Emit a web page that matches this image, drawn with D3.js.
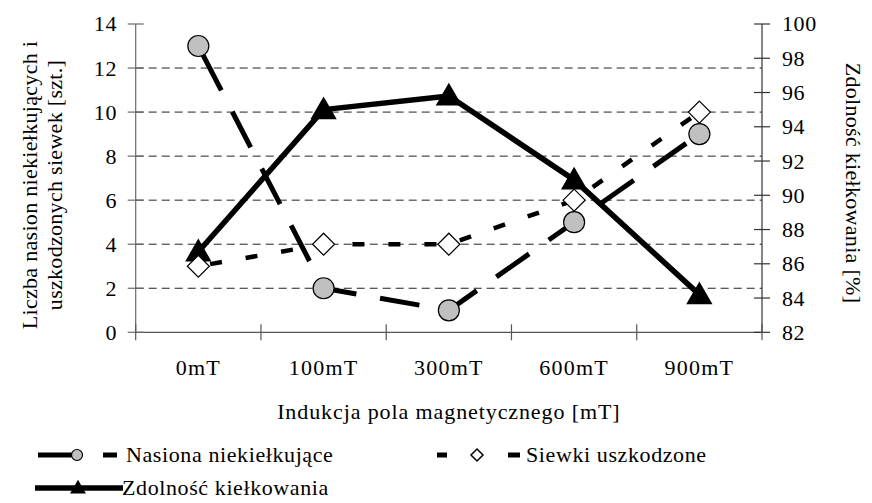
<!DOCTYPE html>
<html><head><meta charset="utf-8">
<script src="https://cdn.jsdelivr.net/npm/d3@7"></script>
<style>html,body{margin:0;padding:0;background:#fff;}</style>
</head>
<body><svg id="c" width="872" height="503"></svg>
<script>
const categories = ["0mT","100mT","300mT","600mT","900mT"];
const nasiona = [13, 2, 1, 5, 9];
const siewki = [3, 4, 4, 6, 10];
const zdolnosc = [86.7, 95.0, 95.8, 90.9, 84.2];
const leftTicks = [0,2,4,6,8,10,12,14];
const rightTicks = [82,84,86,88,90,92,94,96,98,100];
const gridTicks = [2,4,6,8,10,12];
const xTitle = "Indukcja pola magnetycznego [mT]";
const yLeftTitle = ["Liczba nasion niekiełkujących i","uszkodzonych siewek [szt.]"];
const yRightTitle = "Zdolność kiełkowania [%]";
const seriesNames = ["Nasiona niekiełkujące","Siewki uszkodzone","Zdolność kiełkowania"];

const svg = d3.select("#c");
const L = 135.7, R = 762, T = 24, B = 332.3;
const x = d3.scaleBand().domain(categories).range([L, R]).padding(0);
const yL = d3.scaleLinear().domain([0,14]).range([B, T]);
const yR = d3.scaleLinear().domain([82,100]).range([B, T]);
const cx = c => x(c) + x.bandwidth()/2;

function T_(sel, size, ls){
  return sel.style("font-family", "'Liberation Serif', 'Times New Roman', serif")
    .style("letter-spacing", (ls === undefined ? 0.6 : ls) + "px").attr("font-size", size).attr("fill", "#000");
}

// gridlines
svg.append("g").selectAll("line").data(gridTicks).join("line")
  .attr("x1", L).attr("x2", R).attr("y1", d=>yL(d)).attr("y2", d=>yL(d))
  .attr("stroke", "#222").attr("stroke-width", 1).attr("stroke-dasharray", "8,5");

// axes
const axG = svg.append("g");
axG.append("line").attr("x1", L).attr("x2", L).attr("y1", yL(14)).attr("y2", yL(0)).attr("stroke", "#6a6a6a").attr("stroke-width", 1.2);
axG.append("line").attr("x1", L).attr("x2", R).attr("y1", B).attr("y2", B).attr("stroke", "#555").attr("stroke-width", 1.2);
axG.append("line").attr("x1", R).attr("x2", R).attr("y1", yR(100)).attr("y2", yR(82)).attr("stroke", "#333").attr("stroke-width", 1.2);
axG.selectAll(".tl").data(leftTicks).join("line").attr("class","tl")
  .attr("x1", L-8).attr("x2", L+8).attr("y1", d=>yL(d)).attr("y2", d=>yL(d)).attr("stroke", "#6a6a6a").attr("stroke-width", 1.2);
axG.selectAll(".tr").data(rightTicks).join("line").attr("class","tr")
  .attr("x1", R-8).attr("x2", R+8).attr("y1", d=>yR(d)).attr("y2", d=>yR(d)).attr("stroke", "#333").attr("stroke-width", 1.2);
const xb = categories.map(c=>x(c)).concat([R]);
axG.selectAll(".tx").data(xb).join("line").attr("class","tx")
  .attr("x1", d=>d).attr("x2", d=>d).attr("y1", B-8).attr("y2", B+8).attr("stroke", "#555").attr("stroke-width", 1.2);

// tick labels
T_(svg.append("g").selectAll("text").data(leftTicks).join("text"), 22)
  .attr("x", 117).attr("y", d=>yL(d)).attr("dy", "0.34em").attr("text-anchor","end").text(d=>d);
T_(svg.append("g").selectAll("text").data(rightTicks).join("text"), 22)
  .attr("x", 782).attr("y", d=>yR(d)).attr("dy", "0.34em").attr("text-anchor","start").text(d=>d);
T_(svg.append("g").selectAll("text").data(categories).join("text"), 22, 1.2)
  .attr("x", d=>cx(d)).attr("y", 375).attr("text-anchor","middle").text(d=>d);

// titles
T_(svg.append("text"), 22, 0.9).attr("x", (L+R)/2).attr("y", 419).attr("text-anchor","middle").text(xTitle);
const lt = T_(svg.append("text"), 22, 0.3).attr("transform","translate(0,185) rotate(-90)").attr("text-anchor","middle");
lt.append("tspan").attr("x",0).attr("y",37).text(yLeftTitle[0]);
lt.append("tspan").attr("x",0).attr("y",62).text(yLeftTitle[1]);
T_(svg.append("text"), 22, 0.3).attr("transform","translate(846,183) rotate(90)").attr("text-anchor","middle").text(yRightTitle);

// series lines
const lineL = d3.line().x((d,i)=>cx(categories[i])).y(d=>yL(d));
const lineR = d3.line().x((d,i)=>cx(categories[i])).y(d=>yR(d));
svg.append("path").datum(zdolnosc).attr("d", lineR).attr("fill","none").attr("stroke","#000").attr("stroke-width",5.5).attr("stroke-linejoin","round");
svg.append("path").datum(siewki).attr("d", lineL).attr("fill","none").attr("stroke","#000").attr("stroke-width",4.5).attr("stroke-dasharray","12,24").attr("stroke-dashoffset",-12);
svg.append("path").datum(nasiona).attr("d", lineL).attr("fill","none").attr("stroke","#000").attr("stroke-width",5).attr("stroke-dasharray","40,24").attr("stroke-dashoffset",-10);

// markers
const tri = (s) => d3.symbol().type(d3.symbolTriangle).size(s)();
svg.append("g").selectAll("path").data(zdolnosc).join("path")
  .attr("transform",(d,i)=>`translate(${cx(categories[i])},${yR(d)+2})`)
  .attr("d", tri(300)).attr("fill","#000");
svg.append("g").selectAll("path").data(siewki).join("path")
  .attr("transform",(d,i)=>`translate(${cx(categories[i])},${yL(d)})`)
  .attr("d", "M0,-11L11,0L0,11L-11,0Z").attr("fill","#fff").attr("stroke","#000").attr("stroke-width",1.2);
svg.append("g").selectAll("circle").data(nasiona).join("circle")
  .attr("cx",(d,i)=>cx(categories[i])).attr("cy", d=>yL(d)).attr("r", 10.5)
  .attr("fill","#c0c0c0").attr("stroke","#000").attr("stroke-width",1.2);

// legend
const lg = svg.append("g");
lg.append("line").attr("x1",38).attr("x2",72).attr("y1",455).attr("y2",455).attr("stroke","#000").attr("stroke-width",5);
lg.append("line").attr("x1",103).attr("x2",117).attr("y1",455).attr("y2",455).attr("stroke","#000").attr("stroke-width",5);
lg.append("circle").attr("cx",77).attr("cy",455).attr("r",5.5).attr("fill","#c0c0c0").attr("stroke","#000").attr("stroke-width",1.2);
T_(lg.append("text"), 22).attr("x",126).attr("y",455).attr("dy","0.34em").text(seriesNames[0]);
lg.append("line").attr("x1",437).attr("x2",447).attr("y1",455).attr("y2",455).attr("stroke","#000").attr("stroke-width",5);
lg.append("line").attr("x1",508).attr("x2",520).attr("y1",455).attr("y2",455).attr("stroke","#000").attr("stroke-width",5);
lg.append("path").attr("transform","translate(477,455)").attr("d","M0,-6L6,0L0,6L-6,0Z").attr("fill","#fff").attr("stroke","#000").attr("stroke-width",1.5);
T_(lg.append("text"), 22).attr("x",526).attr("y",455).attr("dy","0.34em").text(seriesNames[1]);
lg.append("line").attr("x1",35).attr("x2",123).attr("y1",488).attr("y2",488).attr("stroke","#000").attr("stroke-width",5.5);
lg.append("path").attr("transform","translate(78,489)").attr("d", tri(110)).attr("fill","#000");
T_(lg.append("text"), 22).attr("x",122).attr("y",488).attr("dy","0.34em").text(seriesNames[2]);
</script></body></html>
